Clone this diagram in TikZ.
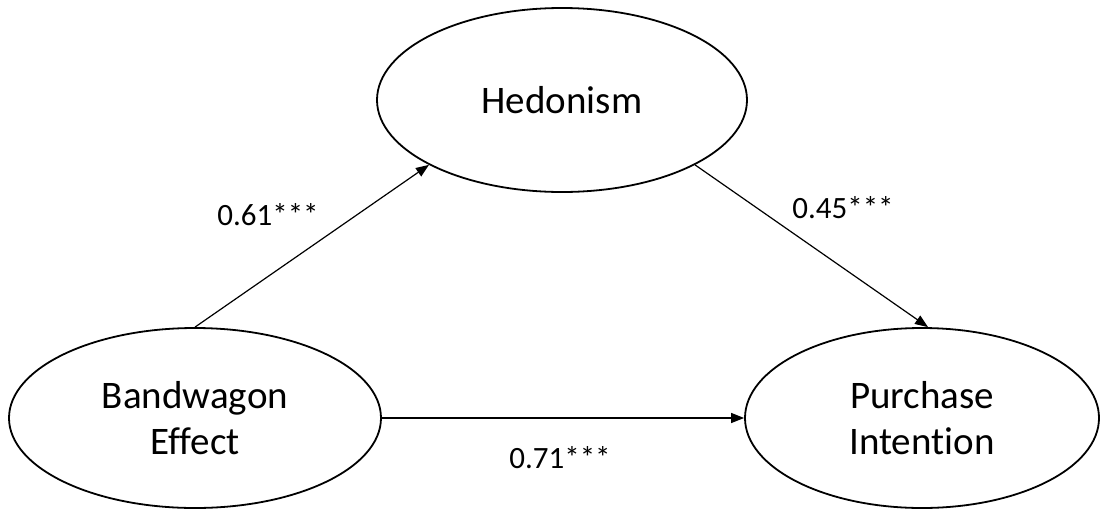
\documentclass[tikz,border=0pt]{standalone}
\usepackage{fontspec}
\setmainfont{Carlito}[Ligatures=NoCommon]
\usetikzlibrary{shapes.geometric,arrows.meta}
\begin{document}
\begin{tikzpicture}[x=1pt,y=-1pt,
  ell/.style={ellipse, draw, line width=1.8pt, inner sep=0pt, align=center,
    font=\fontsize{39}{46}\selectfont},
  lbl/.style={inner sep=0pt, font=\fontsize{31}{36}\selectfont},
  conn/.style={line width=1.2pt, -{Triangle[length=13pt,width=10pt]}}]
\useasboundingbox[fill=white] (0,0) rectangle (1103,509);
\node[ell, minimum width=370pt, minimum height=184pt] (H) at (562,100) {Hedonism};
\node[ell, minimum width=372pt, minimum height=180pt] (B) at (195,418) {Bandwagon\\Effect};
\node[ell, minimum width=354pt, minimum height=180pt] (P) at (922,418) {Purchase\\Intention};
\draw[conn] (B.north) -- (H.206);
\draw[conn] (H.-26) -- ([xshift=6pt]P.north);
\draw[conn] (B.east) -- (P.west);
\node[lbl] (l1) at (268,215) {0.61***};
\node[lbl] (l2) at (843,208) {0.45***};
\node[lbl] (l3) at (560,458) {0.71***};
\end{tikzpicture}
\end{document}
